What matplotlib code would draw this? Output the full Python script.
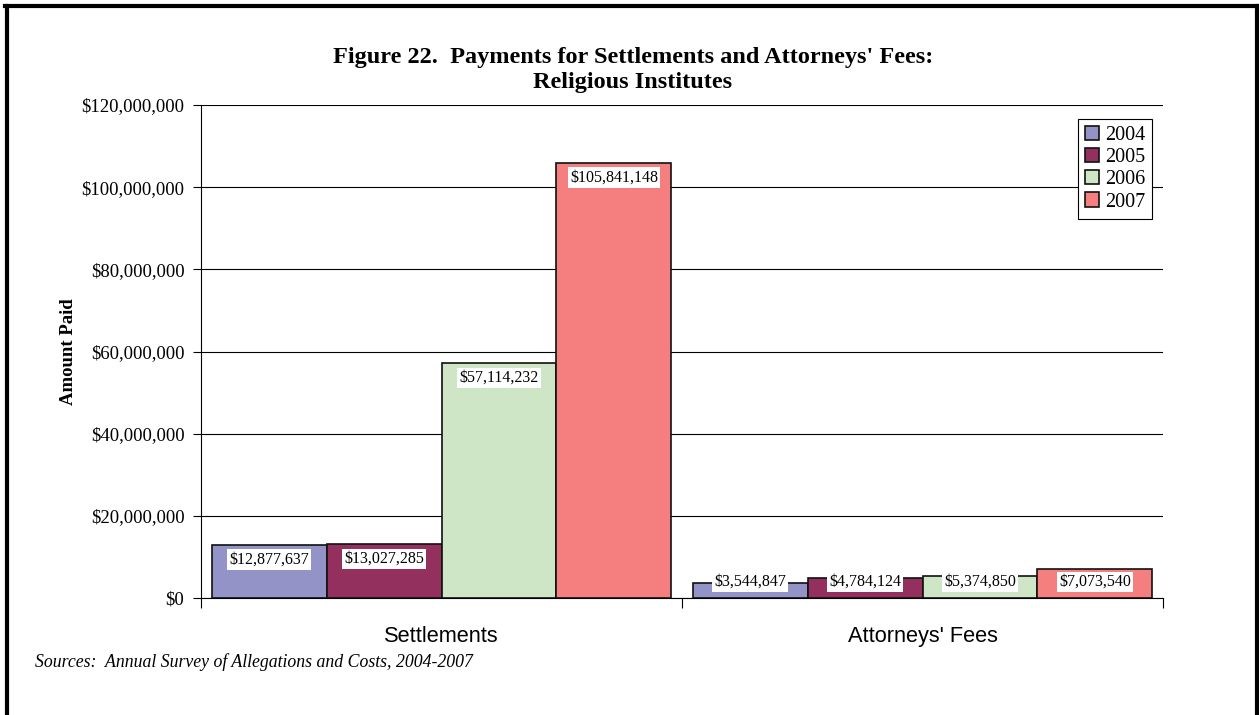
import numpy as np
import matplotlib.pyplot as plt
from matplotlib.lines import Line2D
from matplotlib.ticker import FuncFormatter

# data
categories = ['Settlements', "Attorneys' Fees"]
years = ['2004', '2005', '2006', '2007']
values = {
    '2004': [12877637, 3544847],
    '2005': [13027285, 4784124],
    '2006': [57114232, 5374850],
    '2007': [105841148, 7073540],
}
colors = ['#9393c8', '#93305e', '#cee6c5', '#f47f7e']

serif = 'Liberation Serif'

fig = plt.figure(figsize=(12.59, 7.15), dpi=100)
ax = fig.add_axes([201 / 1259, 1 - 598 / 715, 962 / 1259, 493 / 715])

bw = 0.239
x = np.arange(len(categories)) + 0.5
for i, yr in enumerate(years):
    xs = x + (i - 1.5) * bw
    ax.bar(xs, values[yr], width=bw, color=colors[i], edgecolor='#111111',
           linewidth=1.2, label=yr, zorder=3)
    for xi, v in zip(xs, values[yr]):
        ly = max(v - 3.5e6, 3.9e6)
        ax.text(xi, ly, '${:,}'.format(v), ha='center', va='center',
                fontsize=11.5, family=serif, zorder=5,
                bbox=dict(facecolor='white', edgecolor='none', pad=1.5))

ax.set_xlim(0, 2)
ax.set_ylim(0, 120000000)
ax.set_yticks(np.arange(0, 120000001, 20000000))
ax.yaxis.set_major_formatter(FuncFormatter(lambda v, p: '${:,.0f}'.format(v)))
ax.grid(axis='y', color='black', linewidth=0.8, zorder=0)
ax.set_axisbelow(True)

ax.set_xticks([0, 1, 2])
ax.set_xticklabels([])
ax.set_xticks(x, minor=True)
ax.set_xticklabels(categories, minor=True, fontsize=15.7, family='Liberation Sans')
ax.tick_params(axis='x', which='major', length=7, width=0.8, direction='out')
ax.tick_params(axis='x', which='minor', length=0, pad=20)
ax.tick_params(axis='y', length=6, width=0.8, pad=6, labelsize=13.5)
for lab in ax.get_yticklabels():
    lab.set_family(serif)

for s in ['top', 'right']:
    ax.spines[s].set_visible(False)
for s in ['left', 'bottom']:
    ax.spines[s].set_linewidth(0.8)

ax.set_ylabel('Amount Paid', fontsize=13.5, fontweight='bold', family=serif)
ax.yaxis.set_label_coords(-124 / 962, 0.5)

leg = ax.legend(loc='upper right', bbox_to_anchor=(0.9886, 0.9716), borderaxespad=0,
                prop={'family': serif, 'size': 14.5}, fancybox=False, framealpha=1,
                edgecolor='black', handlelength=0.7, handleheight=0.7,
                handletextpad=0.3, labelspacing=0.15, borderpad=0.35)
leg.get_frame().set_linewidth(0.8)

fig.text(633 / 1259, 1 - 70 / 715,
         "Figure 22.  Payments for Settlements and Attorneys' Fees:\nReligious Institutes",
         ha='center', va='center', fontsize=17.5, fontweight='bold', family=serif,
         linespacing=1.25)
fig.text(35 / 1259, 1 - 662 / 715,
         'Sources:  Annual Survey of Allegations and Costs, 2004-2007',
         ha='left', va='center', fontsize=12.8, style='italic', family=serif)

# outer frame
lw = 3
fig.add_artist(Line2D([7 / 1259, 7 / 1259], [0, 1 - 6 / 715], color='black', lw=lw,
                      transform=fig.transFigure))
fig.add_artist(Line2D([5 / 1259, 1259 / 1259], [1 - 6 / 715, 1 - 6 / 715], color='black', lw=lw,
                      transform=fig.transFigure))
fig.add_artist(Line2D([1257 / 1259, 1257 / 1259], [0, 1 - 6 / 715], color='black', lw=lw,
                      transform=fig.transFigure))

fig.savefig('out.png', dpi=100)
